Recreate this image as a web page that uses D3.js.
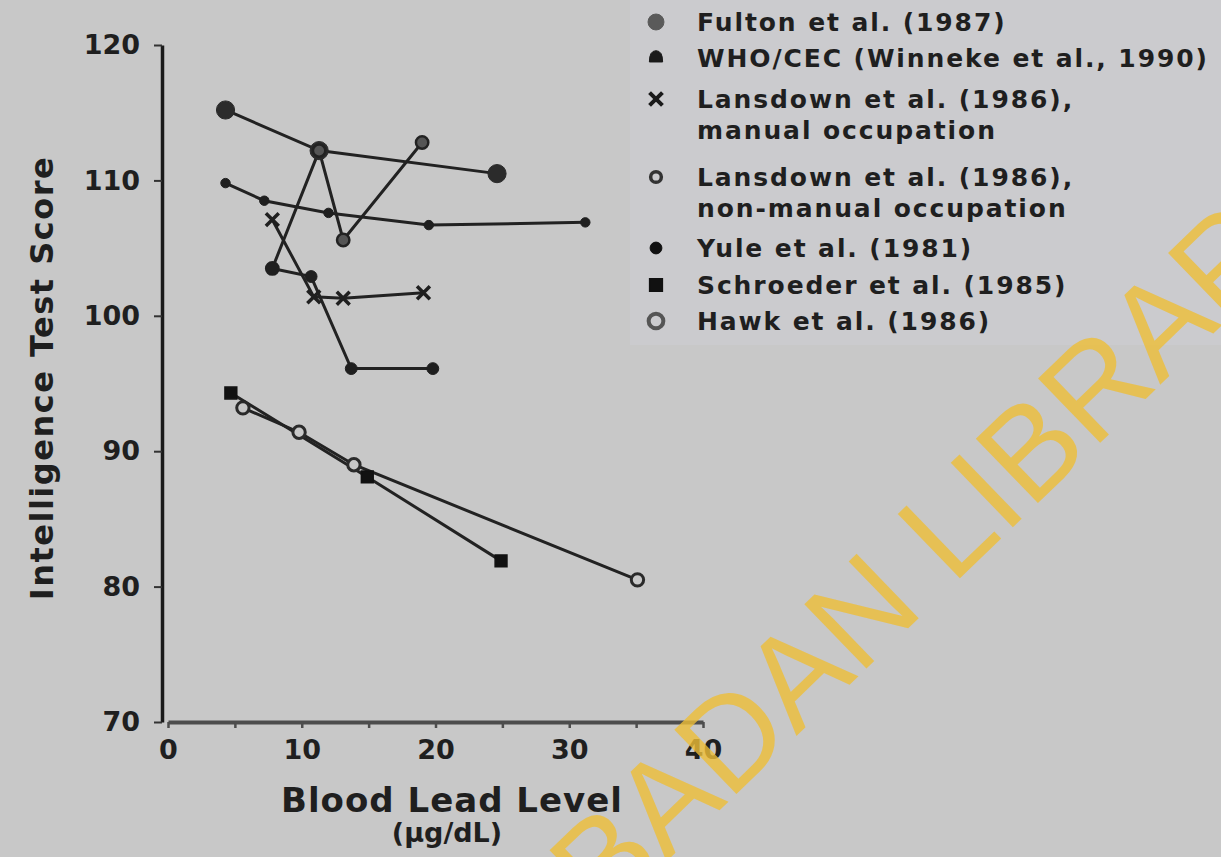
<!DOCTYPE html>
<html>
<head>
<meta charset="utf-8">
<script src="https://cdn.jsdelivr.net/npm/d3@7"></script>
<style>
  body { margin: 0; background: #c8c8c8; }
  svg text { font-family: "DejaVu Sans", sans-serif; font-weight: bold; fill: #1f1f1f; }
</style>
</head>
<body>
<div class="box"></div>
<script>
// Series values (x = blood lead, y = IQ score)
const fultonX = [4.3, 11.3, 24.6];
const fultonY = [115.2, 112.2, 110.5];
const whoX = [4.3, 7.2, 12.0, 19.5, 31.2];
const whoY = [109.8, 108.5, 107.6, 106.7, 106.9];
const manualX = [7.8, 10.9, 13.1, 19.1];
const manualY = [107.1, 101.4, 101.3, 101.7];
const nonManualX = [7.8, 11.3, 13.1, 19.0];
const nonManualY = [103.5, 112.2, 105.6, 112.8];
const yuleX = [7.8, 10.7, 13.7, 19.8];
const yuleY = [103.5, 102.9, 96.1, 96.1];
const schroederX = [4.7, 14.9, 24.9];
const schroederY = [94.3, 88.1, 81.9];
const hawkX = [5.6, 9.8, 13.9, 35.1];
const hawkY = [93.2, 91.4, 89.0, 80.5];

const yTicks = [70, 80, 90, 100, 110, 120];
const xTicks = [0, 5, 10, 15, 20, 25, 30, 35, 40];
const xLabels = [0, 10, 20, 30, 40];

const legendLines = [
  ["Fulton et al. (1987)"],
  ["WHO/CEC (Winneke et al., 1990)"],
  ["Lansdown et al. (1986),", "manual occupation"],
  ["Lansdown et al. (1986),", "non-manual occupation"],
  ["Yule et al. (1981)"],
  ["Schroeder et al. (1985)"],
  ["Hawk et al. (1986)"]
];

const w = 1221;
const h = 857;

const svg = d3.select(".box")
              .append("svg")
              .attr("width", w)
              .attr("height", h);

svg.append("rect")
   .attr("width", w)
   .attr("height", h)
   .attr("fill", "#c8c8c8");

// a touch lighter behind the legend, like the scan
svg.append("rect")
   .attr("x", 630).attr("y", 0)
   .attr("width", 591).attr("height", 345)
   .attr("fill", "#cbcbce");

const x = d3.scaleLinear().domain([0, 40]).range([168, 703]);
const y = d3.scaleLinear().domain([70, 120]).range([722, 45]);

// dome marker for WHO/CEC legend
const dome = {
  draw: function(ctx, size) {
    const r = Math.sqrt(size / 2.5);
    ctx.moveTo(-r, r * 0.6);
    ctx.quadraticCurveTo(-r, -r * 1.1, 0, -r * 1.1);
    ctx.quadraticCurveTo(r, -r * 1.1, r, r * 0.6);
    ctx.closePath();
  }
};

const series = [
  { xs: fultonX, ys: fultonY, sym: d3.symbolCircle, size: 260, fill: "#2b2b2b", stroke: "#2b2b2b", sw: 1 },
  { xs: whoX, ys: whoY, sym: d3.symbolCircle, size: 70, fill: "#1f1f1f", stroke: "#1f1f1f", sw: 1 },
  { xs: manualX, ys: manualY, sym: d3.symbolX, size: 110, fill: "none", stroke: "#1f1f1f", sw: 3.5 },
  { xs: nonManualX, ys: nonManualY, sym: d3.symbolCircle, size: 120, fill: "#555", stroke: "#222", sw: 2.5 },
  { xs: yuleX, ys: yuleY, sym: d3.symbolCircle, size: 110, fill: "#1f1f1f", stroke: "#1f1f1f", sw: 1 },
  { xs: schroederX, ys: schroederY, sym: d3.symbolSquare, size: 140, fill: "#111", stroke: "#111", sw: 1.5 },
  { xs: hawkX, ys: hawkY, sym: d3.symbolCircle, size: 120, fill: "#c8c8c8", stroke: "#2a2a2a", sw: 3 }
];

const line = d3.line().x(d => x(d[0])).y(d => y(d[1]));

// LINES
series.forEach(function(s) {
  const pts = s.xs.map((v, i) => [v, s.ys[i]]);
  svg.append("path")
     .attr("d", line(pts))
     .attr("fill", "none")
     .attr("stroke", "#222")
     .attr("stroke-width", 3);
});

// MARKERS
series.forEach(function(s) {
  const pts = s.xs.map((v, i) => [v, s.ys[i]]);
  svg.append("g").selectAll("path")
     .data(pts)
     .enter()
     .append("path")
     .attr("transform", d => "translate(" + x(d[0]) + "," + y(d[1]) + ")")
     .attr("d", d3.symbol().type(s.sym).size(s.size))
     .attr("fill", s.fill)
     .attr("stroke", s.stroke)
     .attr("stroke-width", s.sw);
});

// AXES
const yAxis = d3.axisLeft(y).tickValues(yTicks).tickSize(8).tickSizeOuter(0).tickPadding(14);
const gy = svg.append("g")
              .attr("transform", "translate(" + (x(0) - 6) + ",0)")
              .call(yAxis);
gy.select(".domain").attr("stroke", "#1a1a1a").attr("stroke-width", 3.5);
gy.selectAll(".tick line").attr("stroke", "#333").attr("stroke-width", 2);
gy.selectAll(".tick text")
  .style("font-size", "27px")
  .style("font-family", "DejaVu Sans")
  .style("font-weight", "bold")
  .attr("fill", d => d === 70 ? "#555" : "#1f1f1f");

const xAxis = d3.axisBottom(x).tickValues(xTicks).tickSize(6).tickSizeOuter(0).tickPadding(12)
                .tickFormat(d => xLabels.includes(d) ? d : "");
const gx = svg.append("g")
              .attr("transform", "translate(0," + y(70) + ")")
              .call(xAxis);
gx.select(".domain").attr("stroke", "#4d4d4d").attr("stroke-width", 4);
gx.selectAll(".tick line").attr("stroke", "#4d4d4d").attr("stroke-width", 2.5);
gx.selectAll(".tick text")
  .style("font-size", "27px")
  .style("font-family", "DejaVu Sans")
  .style("font-weight", "bold")
  .attr("fill", "#1f1f1f");

// AXIS TITLES
svg.append("text")
   .attr("transform", "rotate(-90)")
   .attr("x", -378)
   .attr("y", 42)
   .attr("dy", "0.35em")
   .attr("text-anchor", "middle")
   .style("font-size", "32px")
   .style("letter-spacing", "1.5px")
   .text("Intelligence Test Score");

svg.append("text")
   .attr("x", 452)
   .attr("y", 800)
   .attr("dy", "0.35em")
   .attr("text-anchor", "middle")
   .style("font-size", "34px")
   .style("letter-spacing", "1px")
   .text("Blood Lead Level");

svg.append("text")
   .attr("x", 447)
   .attr("y", 833)
   .attr("dy", "0.35em")
   .attr("text-anchor", "middle")
   .style("font-size", "27px")
   .text("(µg/dL)");

// LEGEND
const legendY = [22, 58, 99, 177, 248, 285, 321];
const legendSym = [
  { sym: d3.symbolCircle, size: 200, fill: "#5a5a5a", stroke: "#5a5a5a", sw: 1 },
  { sym: dome, size: 110, fill: "#1a1a1a", stroke: "#1a1a1a", sw: 1 },
  { sym: d3.symbolX, size: 110, fill: "none", stroke: "#1a1a1a", sw: 4 },
  { sym: d3.symbolCircle, size: 90, fill: "#cbcbce", stroke: "#333", sw: 3.5 },
  { sym: d3.symbolCircle, size: 110, fill: "#111", stroke: "#111", sw: 1 },
  { sym: d3.symbolSquare, size: 150, fill: "#111", stroke: "#111", sw: 2 },
  { sym: d3.symbolCircle, size: 170, fill: "#cbcbce", stroke: "#555", sw: 4 }
];

const legend = svg.append("g").attr("id", "legend");

legendLines.forEach(function(lines, i) {
  const s = legendSym[i];
  legend.append("path")
        .attr("transform", "translate(656," + legendY[i] + ")")
        .attr("d", d3.symbol().type(s.sym).size(s.size))
        .attr("fill", s.fill)
        .attr("stroke", s.stroke)
        .attr("stroke-width", s.sw);
  lines.forEach(function(t, j) {
    legend.append("text")
          .attr("x", 697)
          .attr("y", legendY[i] + j * 31)
          .attr("dy", "0.35em")
          .style("font-size", "25px")
          .style("letter-spacing", "1.9px")
          .text(t);
  });
});

// WATERMARK
svg.append("text")
   .attr("transform", "translate(604,922) rotate(-44)")
   .style("font-family", "Liberation Sans")
   .style("font-weight", "normal")
   .style("font-size", "130px")
   .style("fill", "rgba(238,190,55,0.8)")
   .text("BADAN LIBRARY");
</script>
</body>
</html>
